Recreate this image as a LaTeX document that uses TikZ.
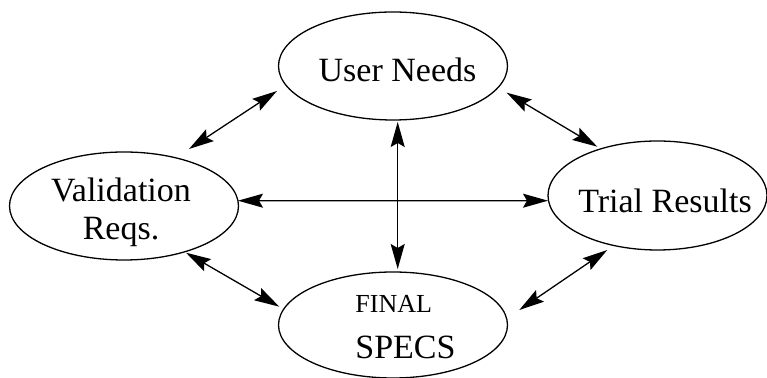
\documentclass[tikz,border=0pt]{standalone}
\usepackage{fontspec}
\setmainfont{Liberation Serif}
\usepackage{tikz}
\usetikzlibrary{shapes.geometric}
\usetikzlibrary{arrows.meta}

\begin{document}
\begin{tikzpicture}[x=0.5pt,y=-0.5pt,
    blob/.style={draw,ellipse,line width=0.65pt,inner sep=0pt},
    txt/.style={font=\fontsize{17}{19}\selectfont,inner sep=0pt,anchor=base},
    link/.style={{Stealth[length=12.5pt,width=7pt,inset=2pt]}-{Stealth[length=12.5pt,width=7pt,inset=2pt]},line width=0.65pt}]
    \useasboundingbox (0,0) rectangle (767,378);
    % the four ellipses
    \node[blob,minimum width=114.5pt,minimum height=54pt] (user) at (393,66) {};
    \node[blob,minimum width=114.5pt,minimum height=54pt] (val) at (124,206) {};
    \node[blob,minimum width=109.5pt,minimum height=54.5pt] (trial) at (657.5,195.5) {};
    \node[blob,minimum width=114.5pt,minimum height=53pt] (final) at (393,325) {};
    % their texts (base = last line)
    \node[txt] (userlbl) at (397.5,82) {User Needs};
    \node[txt,align=center] (vallbl) at (121,240) {Validation\\Reqs.};
    \node[txt] (triallbl) at (665,213) {Trial Results};
    \node[txt,align=left,anchor=base west] (finallbl) at (355,359)
      {{\fontsize{13}{15}\selectfont FINAL}\\[4pt]SPECS};
    % arrows
    \draw[link] ([shift={(4.7,56)}]user.center) -- ([shift={(4.7,-56)}]final.center);
    \draw[link] ([shift={(114,-5.3)}]val.center) -- ([shift={(-109.5,5.2)}]trial.center);
    \draw[link] ([shift={(65,-57)}]val.center) -- ([shift={(-116,25)}]user.center);
    \draw[link] ([shift={(113.7,26.7)}]user.center) -- ([shift={(-60.2,-48.8)}]trial.center);
    \draw[link] ([shift={(62,46.7)}]val.center) -- ([shift={(-113.7,-18.3)}]final.center);
    \draw[link] ([shift={(126.3,-15)}]final.center) -- ([shift={(-50.2,54.5)}]trial.center);
  \end{tikzpicture}
\end{document}
